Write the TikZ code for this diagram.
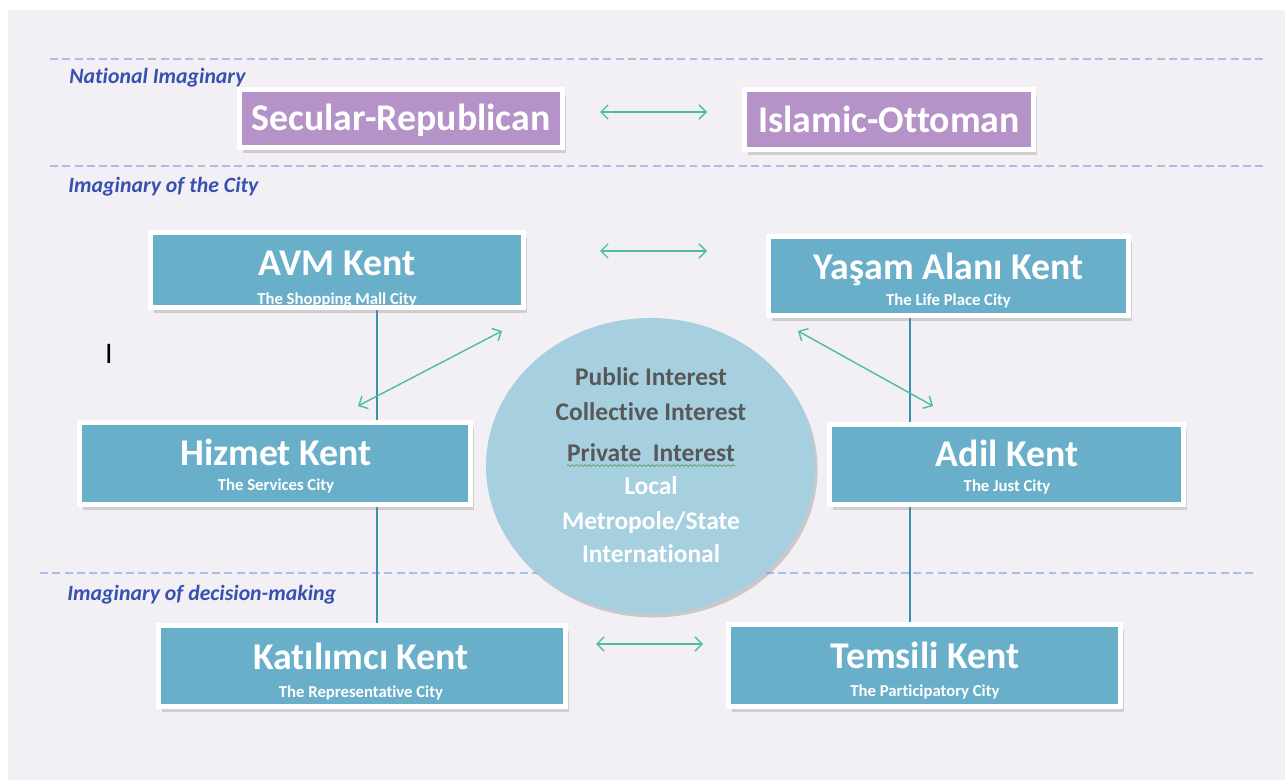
\documentclass[tikz,border=0pt]{standalone}
\usepackage{fontspec}
\setmainfont{Carlito}[Ligatures=NoCommon]
\usetikzlibrary{arrows.meta,shadows,shapes.geometric,decorations.pathmorphing}
\definecolor{pagegrey}{HTML}{F2F0F4}
\definecolor{cityblue}{HTML}{6AAFCA}
\definecolor{natpurple}{HTML}{B593C9}
\definecolor{hubblue}{HTML}{A6D0E0}
\definecolor{linkgreen}{HTML}{4DBF94}
\definecolor{sepblue}{HTML}{A8BFEA}
\definecolor{layerblue}{HTML}{3850B0}
\definecolor{spineblue}{HTML}{3D8FB0}
\definecolor{hubdark}{HTML}{585858}
\definecolor{spellgreen}{HTML}{5AA05A}
\pgfdeclarelayer{back}
\pgfsetlayers{back,main}
\tikzset{
    cbox/.style={draw=white, line width=0.1cm, fill=cityblue,
        drop shadow={shadow xshift=2pt, shadow yshift=-3pt, opacity=0.3}},
    nbox/.style={cbox, fill=natpurple},
    ctitle/.style={anchor=base, text=white, inner sep=0pt, font=\bfseries\fontsize{21.5}{25}\selectfont},
    csub/.style={anchor=base, text=white, inner sep=0pt, font=\bfseries\fontsize{9.5}{11}\selectfont},
    layername/.style={anchor=base west, inner sep=0pt, text=layerblue, font=\bfseries\itshape\fontsize{12.4}{14}\selectfont},
    sep/.style={draw=sepblue, line width=0.6pt, dash pattern=on 4.5pt off 2.5pt},
    spine/.style={draw=spineblue, line width=0.6pt},
    link/.style={>={Straight Barb[length=4pt,width=8pt]}, <->, draw=linkgreen, line width=0.8pt},
    hubtext/.style={anchor=base, inner sep=0pt, font=\bfseries\fontsize{14.5}{17}\selectfont}
}
\begin{document}
\begin{tikzpicture}[x=0.02cm, y=-0.02cm]
    \useasboundingbox (0,0) rectangle (1285,780);
    \begin{pgfonlayer}{back}
        \fill[white] (0,0) rectangle (1285,780);
        \fill[pagegrey] (8,10) rectangle (1285,780);
        % layer separators
        \draw[sep] (50,59) -- (1263,59);
        \draw[sep] (50,166) -- (1263,166);
        \draw[sep] (40,573) -- (1255,573);
    \end{pgfonlayer}
    \node[layername] (nat) at (69,84) {National Imaginary};
    \node[layername] (city) at (68,193) {Imaginary of the City};
    \node[layername] (dec) at (67,600) {Imaginary of decision-making};
    % national imaginary
    \node[nbox, minimum width=6.46cm, minimum height=1.16cm] (sec) at (401,118.5) {};
    \node[ctitle] (sec-t) at (401,131) {Secular-Republican};
    \node[nbox, minimum width=5.78cm, minimum height=1.2cm] (isl) at (889,119.5) {};
    \node[ctitle] (isl-t) at (889,133) {Islamic-Ottoman};
    % imaginary of the city
    \node[cbox, minimum width=7.46cm, minimum height=1.5cm] (avm) at (337,270) {};
    \node[ctitle] (avm-t) at (337,276) {AVM Kent};
    \begin{scope}
        \clip (153,234) rectangle (521,305);
        \node[csub] (avm-s) at (337,305) {The Shopping Mall City};
    \end{scope}
    \node[cbox, minimum width=7.2cm, minimum height=1.58cm] (yas) at (948.5,276) {};
    \node[ctitle] (yas-t) at (948.5,280) {Yaşam Alanı Kent};
    \node[csub] (yas-s) at (948.5,306) {The Life Place City};
    \node[cbox, minimum width=7.82cm, minimum height=1.64cm] (hiz) at (275,463.5) {};
    \node[ctitle] (hiz-t) at (276,465) {Hizmet Kent};
    \node[csub] (hiz-s) at (276,491) {The Services City};
    \node[cbox, minimum width=7.08cm, minimum height=1.6cm] (adil) at (1006.5,464.5) {};
    \node[ctitle] (adil-t) at (1007,466) {Adil Kent};
    \node[csub] (adil-s) at (1007,492) {The Just City};
    % imaginary of decision-making
    \node[cbox, minimum width=8.14cm, minimum height=1.62cm] (kat) at (362,666) {};
    \node[ctitle] (kat-t) at (361,669) {Katılımcı Kent};
    \node[csub] (kat-s) at (361,697) {The Representative City};
    \node[cbox, minimum width=7.84cm, minimum height=1.64cm] (tem) at (924.5,665.5) {};
    \node[ctitle] (tem-t) at (925,668) {Temsili Kent};
    \node[csub] (tem-s) at (925,696) {The Participatory City};
    % spines behind the boxes
    \coordinate (lspine) at (377,0);
    \coordinate (rspine) at (910,0);
    \begin{pgfonlayer}{back}
        \draw[spine] (avm.south -| lspine) -- (kat.north -| lspine);
        \draw[spine] (yas.south -| rspine) -- (tem.north -| rspine);
    \end{pgfonlayer}
    % centre
    \node[ellipse, fill=hubblue, minimum width=6.58cm, minimum height=5.92cm,
        drop shadow={shadow xshift=1.5pt, shadow yshift=-2pt, opacity=0.35}] (hub) at (650.5,466) {};
    \foreach \txt/\y/\col [count=\i] in {Public Interest/386/hubdark, Collective Interest/421/hubdark,
            Private~~Interest/461/hubdark, Local/495/white, {Metropole/State}/529/white, International/562/white} {
        \node[hubtext, text=\col] (hub-\i) at (651,\y) {\txt};
    }
    \draw[spellgreen, line width=0.4pt, decorate, decoration={snake, amplitude=0.5pt, segment length=2.4pt}]
        ([yshift=-2.6pt]hub-3.base west) -- ([yshift=-2.6pt]hub-3.base east);
    % links
    \coordinate (nl) at (600,112);
    \coordinate (nr) at (707,112);
    \coordinate (cl) at (600,251);
    \coordinate (cr) at (707,251);
    \coordinate (dl) at (596,644);
    \coordinate (dr) at (703,644);
    \coordinate (wl) at (358,406);
    \coordinate (wr) at (502,331);
    \coordinate (el) at (798,331);
    \coordinate (er) at (933,406);
    \draw[link] (nl) -- (nr);
    \draw[link] (cl) -- (cr);
    \draw[link] (dl) -- (dr);
    \draw[link] (wl) -- (wr);
    \draw[link] (el) -- (er);
    \node[anchor=base, inner sep=0pt, font=\fontsize{17}{20}\selectfont] (caret) at (109,364) {I};
\end{tikzpicture}
\end{document}
